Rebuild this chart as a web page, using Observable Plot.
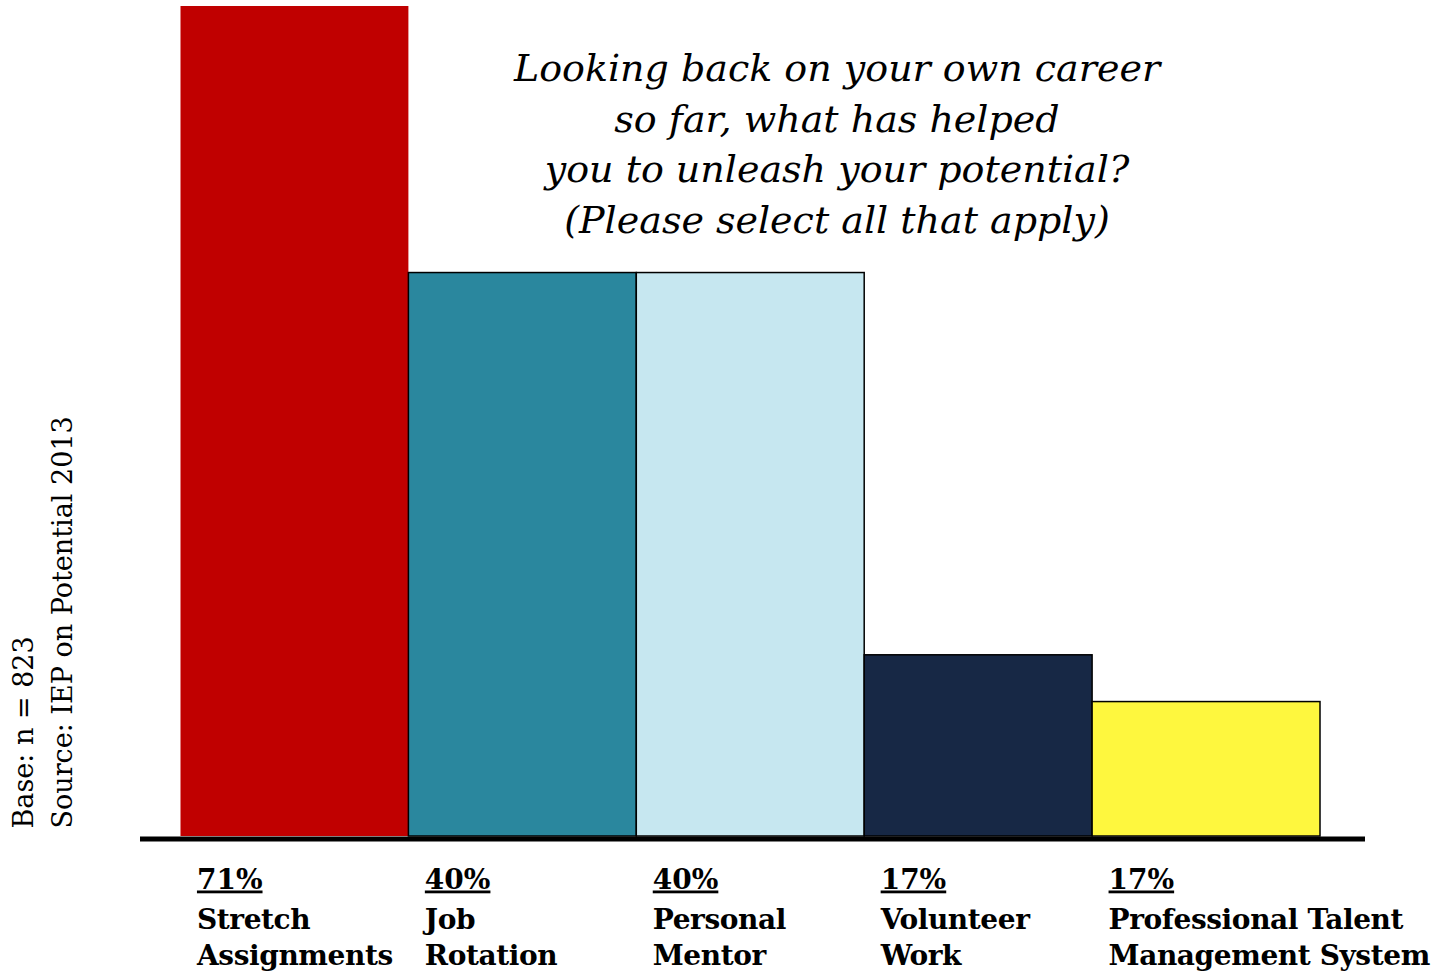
<!DOCTYPE html>
<html>
<head>
<meta charset="utf-8">
<script src="https://cdn.jsdelivr.net/npm/d3@7"></script>
<script src="https://cdn.jsdelivr.net/npm/@observablehq/plot@0.6"></script>
<style>
  html, body { margin: 0; padding: 0; background: #fff; }
  #chart svg { display: block; }
</style>
</head>
<body>
<div id="chart"></div>
<script>
// Categories (bars, left to right)
const categories = ["Stretch Assignments", "Job Rotation", "Personal Mentor", "Volunteer Work", "Professional Talent Management System"];
// Label text under each bar (two lines)
const nameLabels = ["Stretch\nAssignments", "Job\nRotation", "Personal\nMentor", "Volunteer\nWork", "Professional Talent\nManagement System"];
// Percent labels printed under each bar
const pctLabels = ["71%", "40%", "40%", "17%", "17%"];
// Bar heights as drawn in the picture (same units as the 71% bar)
const barHeights = [71, 48.2, 48.2, 15.5, 11.5];
// Palette
const barColors = ["#C00000", "#2A879E", "#C6E7F0", "#172845", "#FEF73E"];

const titleText = "Looking back on your own career\nso far, what has helped\nyou to unleash your potential?\n(Please select all that apply)";
const sideText = "Base: n = 823\nSource: IEP on Potential 2013";

const data = categories.map((c, i) => ({cat: c, value: barHeights[i], name: nameLabels[i], pct: pctLabels[i]}));

const serif = "Georgia, 'DejaVu Serif', serif";

const chart = Plot.plot({
  width: 1444,
  height: 971,
  marginTop: 6,
  marginBottom: 135,
  marginLeft: 140,
  marginRight: 79,
  style: {fontFamily: serif, background: "#fff"},
  x: {type: "band", domain: categories, range: [180.5, 1320], padding: 0, round: false, axis: null},
  y: {domain: [0, 71], axis: null},
  color: {domain: categories, range: barColors},
  marks: [
    Plot.barY(data, {x: "cat", y: "value", fill: "cat",
      stroke: (d, i) => i === 0 ? "none" : "#000", strokeWidth: 1.5}),
    Plot.ruleY([0], {stroke: "#000", strokeWidth: 5, dy: 2.5}),
    Plot.text(data, {ariaDescription: "pct", x: "cat", text: "pct", frameAnchor: "bottom",
      textAnchor: "start", lineAnchor: "bottom", dx: -98, dy: 52,
      fontSize: 28, fontWeight: "bold", fill: "#000"}),
    Plot.text(data, {ariaDescription: "names", x: "cat", text: "name", frameAnchor: "bottom",
      textAnchor: "start", lineAnchor: "bottom", dx: -98, dy: 128,
      fontSize: 28, fontWeight: "bold", lineHeight: 36 / 28, fill: "#000"}),
    Plot.text([titleText], {text: d => d, frameAnchor: "top", lineAnchor: "top",
      dx: 84, dy: 39, fontSize: 38, fontStyle: "italic", lineHeight: 50.5 / 38,
      textAnchor: "middle", fill: "#000"}),
    Plot.text([sideText], {text: d => d, frameAnchor: "bottom-left", lineAnchor: "bottom",
      textAnchor: "start", rotate: -90, dx: -69, dy: -8, fontSize: 27,
      lineHeight: 39 / 27, fill: "#000"})
  ]
});

// underline the percentage labels, tighten the bar-name labels slightly
d3.select(chart).selectAll('g[aria-description="pct"] text')
  .attr("text-decoration", "underline")
  .style("text-decoration", "underline");
d3.select(chart).selectAll('g[aria-description="names"] text')
  .attr("letter-spacing", "-0.4");

document.getElementById("chart").appendChild(chart);
</script>
</body>
</html>
